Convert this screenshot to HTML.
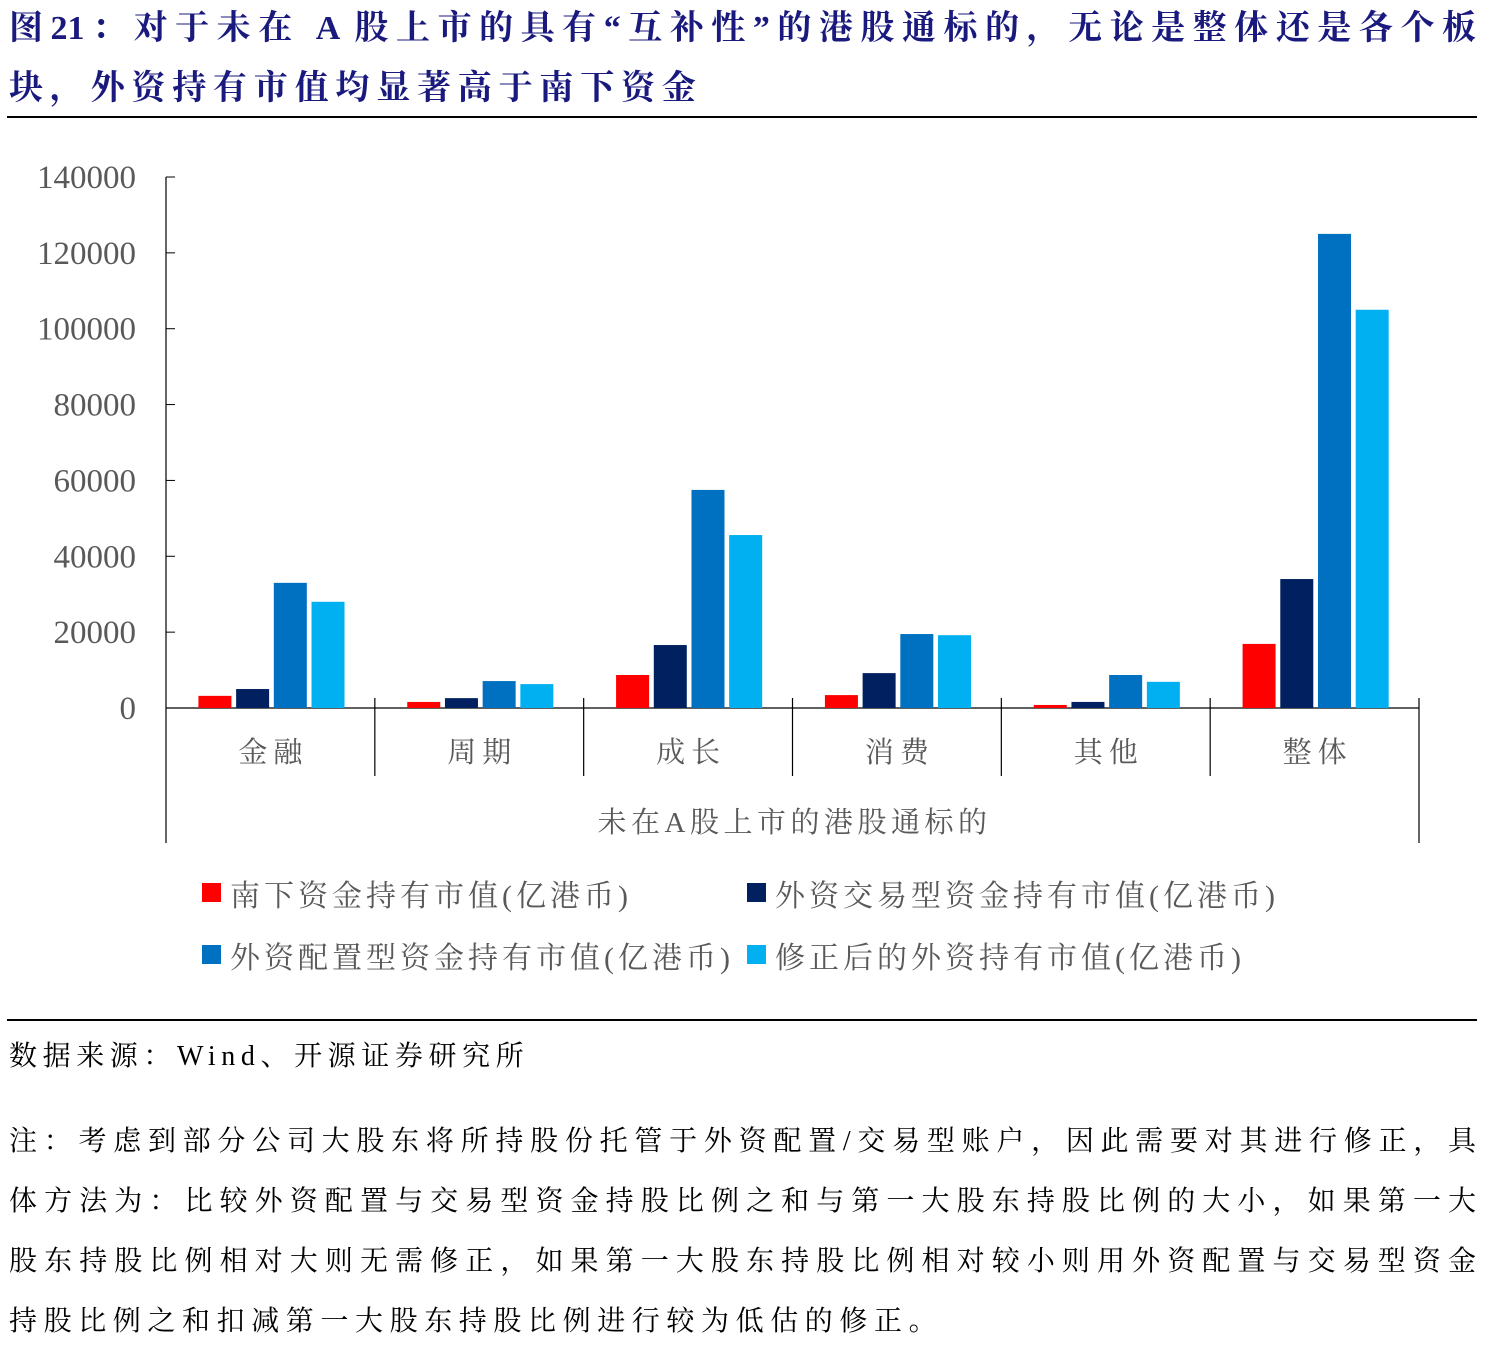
<!DOCTYPE html>
<html><head><meta charset="utf-8"><style>
body{margin:0;width:1493px;height:1358px;background:#fff;overflow:hidden;font-family:"Liberation Serif","Noto Serif CJK SC",serif;}
.title{position:absolute;left:9px;width:1467px;font-size:34px;font-weight:bold;color:#1a1a7e;line-height:62px;white-space:nowrap}
.just{text-align:justify;text-align-last:justify}
.rule{position:absolute;left:7px;width:1470px;height:2px;background:#000}
.txt{position:absolute;left:9px;font-size:28px;color:#000;white-space:nowrap}
.fn{position:absolute;left:9px;width:1467px;font-size:28px;color:#000;white-space:nowrap;line-height:60px}
</style></head><body>
<div class="title just" style="top:-2px">图21：对于未在 A 股上市的具有“互补性”的港股通标的，无论是整体还是各个板</div>
<div class="title" style="top:58px;letter-spacing:6.8px">块，外资持有市值均显著高于南下资金</div>
<div class="rule" style="top:116px"></div>
<svg id="chart" width="1493" height="1010" style="position:absolute;left:0;top:0"></svg>
<div class="rule" style="top:1019px;height:1.5px"></div>
<div class="txt" style="top:1034px;letter-spacing:5.6px">数据来源：Wind、开源证券研究所</div>
<div class="fn just" style="top:1112px">注：考虑到部分公司大股东将所持股份托管于外资配置/交易型账户，因此需要对其进行修正，具</div>
<div class="fn just" style="top:1172px">体方法为：比较外资配置与交易型资金持股比例之和与第一大股东持股比例的大小，如果第一大</div>
<div class="fn just" style="top:1232px">股东持股比例相对大则无需修正，如果第一大股东持股比例相对较小则用外资配置与交易型资金</div>
<div class="fn" style="top:1292px;letter-spacing:6.6px">持股比例之和扣减第一大股东持股比例进行较为低估的修正。</div>
<script>
const categories=["金融","周期","成长","消费","其他","整体"];
const southbound=[3200,1600,8700,3400,800,16900];
const foreignTrading=[5000,2600,16600,9200,1600,34000];
const foreignAllocation=[33000,7100,57500,19500,8700,125000];
const corrected=[28000,6300,45600,19200,6900,105000];
const yTicks=[0,20000,40000,60000,80000,100000,120000,140000];
const seriesNames=["南下资金持有市值(亿港币)","外资交易型资金持有市值(亿港币)","外资配置型资金持有市值(亿港币)","修正后的外资持有市值(亿港币)"];
const NS="http://www.w3.org/2000/svg";
const svg=document.getElementById('chart');
const x0=166,x1=1419,y0=708,yTop=177,yMax=140000;
const colors=["#ff0000","#002060","#0070c0","#00b0f0"];
const series=[southbound,foreignTrading,foreignAllocation,corrected];
const bw=(x1-x0)/categories.length;
function y(v){return y0-(v/yMax)*(y0-yTop);}
function mk(tag,attrs){const e=document.createElementNS(NS,tag);for(const k in attrs)e.setAttribute(k,attrs[k]);svg.appendChild(e);return e;}
yTicks.forEach(t=>{
 const l=mk('line',{x1:x0,x2:x0+9,y1:y(t),y2:y(t),stroke:'#000','stroke-width':1});
 
 
 const tx=mk('text',{x:136,y:y(t)+11,'text-anchor':'end','font-size':33,fill:'#595959','font-family':'Liberation Serif, serif'});
 tx.textContent=t;
 
 
});
const ya=mk('line',{x1:x0,x2:x0,y1:yTop,y2:843,stroke:'#000','stroke-width':1.2});


const xa=mk('line',{x1:x0,x2:x1,y1:y0,y2:y0,stroke:'#000','stroke-width':1.2});


const ra=mk('line',{x1:x1,x2:x1,y1:698,y2:843,stroke:'#000','stroke-width':1.2});


categories.forEach((c,i)=>{
 const cx=x0+bw*(i+0.5);
 if(i>0){const d=mk('line',{x1:x0+bw*i,x2:x0+bw*i,y1:698,y2:776,stroke:'#000','stroke-width':1.2});
 
 }
 const t=mk('text',{x:cx+3,y:762,'text-anchor':'middle','font-size':29,fill:'#595959','letter-spacing':6});
 t.textContent=c;
 
 
 series.forEach((s,j)=>{
  const bx=cx-72+j*37.7;
  const r=mk('rect',{x:bx,y:y(s[i]),width:33,height:y0-y(s[i]),fill:colors[j]});
  
  
 });
});
const g=mk('text',{x:(x0+x1)/2+2,y:832,'text-anchor':'middle','font-size':29,fill:'#595959','letter-spacing':4.5});
g.textContent="未在A股上市的港股通标的";


const lp=[[200,895],[745,895],[200,957],[745,957]];
seriesNames.forEach((n,j)=>{
 const r=mk('rect',{x:lp[j][0]+2,y:lp[j][1]-12,width:19,height:19,fill:colors[j]});
 
 
 const t=mk('text',{x:lp[j][0]+30,y:lp[j][1]+11,'font-size':30,fill:'#595959','letter-spacing':4});
 t.textContent=n;
 
 
});
</script>
</body></html>
